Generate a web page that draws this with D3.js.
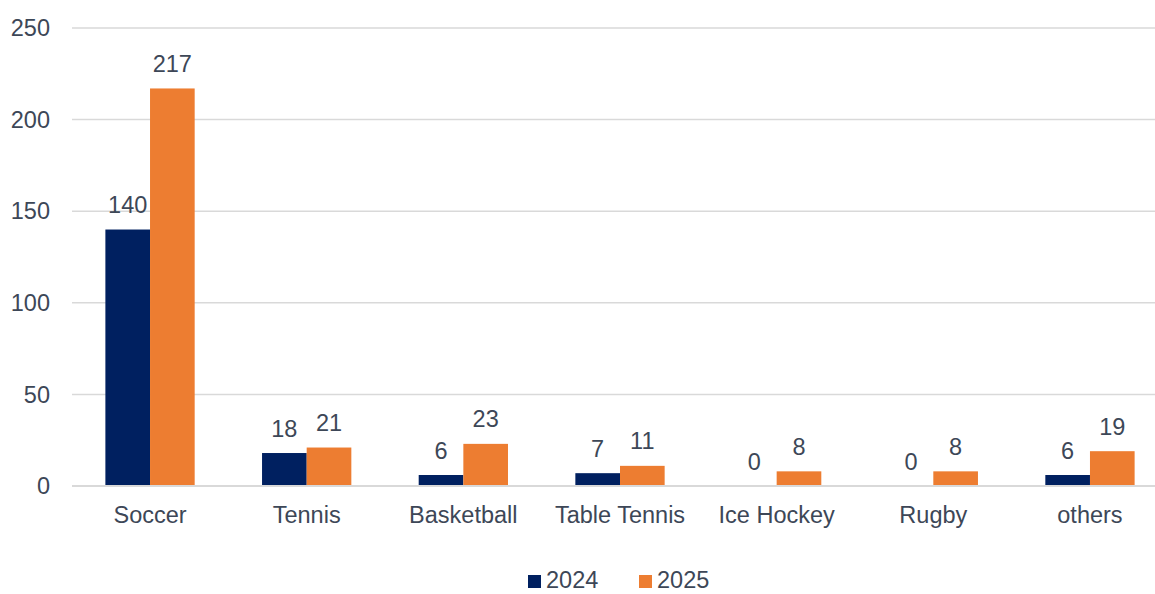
<!DOCTYPE html>
<html>
<head>
<meta charset="utf-8">
<script src="https://cdn.jsdelivr.net/npm/d3@7"></script>
<style>
  html, body { margin: 0; padding: 0; background: #fff; }
  svg text { font-family: "Liberation Sans", Arial, sans-serif; fill: #3d4757; }
</style>
</head>
<body>
<div id="canvas"></div>
<script>
const categories = ["Soccer", "Tennis", "Basketball", "Table Tennis", "Ice Hockey", "Rugby", "others"];
const seriesNames = ["2024", "2025"];
const values2024 = [140, 18, 6, 7, 0, 0, 6];
const values2025 = [217, 21, 23, 11, 8, 8, 19];
const yTicks = [0, 50, 100, 150, 200, 250];
const colors = ["#002060", "#ED7D31"];

const w = 1155;
const h = 594;
const fontSize = 23.5;

const data = categories.map((c, i) => ({
  cat: c,
  vals: [
    {name: seriesNames[0], v: values2024[i]},
    {name: seriesNames[1], v: values2025[i]}
  ]
}));

const svg = d3.select("#canvas")
  .append("svg")
  .attr("width", w)
  .attr("height", h);

const x0 = d3.scaleBand()
  .domain(categories)
  .range([71.7, 1168.3])
  .padding(0);

const bw = x0.bandwidth();
const x1 = d3.scaleBand()
  .domain(seriesNames)
  .range([bw * 0.215, bw * 0.785])
  .padding(0);

const y = d3.scaleLinear()
  .domain([0, 250])
  .range([486, 28]);

// gridlines
svg.append("g")
  .selectAll("line")
  .data(yTicks)
  .enter()
  .append("line")
  .attr("x1", 72)
  .attr("x2", w)
  .attr("y1", d => y(d))
  .attr("y2", d => y(d))
  .style("stroke", "#d9d9d9")
  .style("stroke-width", 1.5);

// y labels
svg.append("g")
  .selectAll("text")
  .data(yTicks)
  .enter()
  .append("text")
  .attr("x", 50)
  .attr("y", d => y(d))
  .attr("dy", "0.35em")
  .attr("text-anchor", "end")
  .style("font-size", fontSize + "px")
  .text(d => d);

// bars
const groups = svg.append("g")
  .selectAll("g")
  .data(data)
  .enter()
  .append("g")
  .attr("transform", d => "translate(" + x0(d.cat) + ",0)");

groups.selectAll("rect")
  .data(d => d.vals)
  .enter()
  .append("rect")
  .attr("x", d => x1(d.name))
  .attr("width", x1.bandwidth())
  .attr("y", d => y(d.v))
  .attr("height", d => y(0) - y(d.v))
  .style("fill", (d, i) => colors[i]);

groups.selectAll("text")
  .data(d => d.vals)
  .enter()
  .append("text")
  .attr("x", d => x1(d.name) + x1.bandwidth() / 2)
  .attr("y", d => y(d.v) - 16.5)
  .attr("text-anchor", "middle")
  .style("font-size", fontSize + "px")
  .text(d => d.v);

// axis line
svg.append("line")
  .attr("x1", 72)
  .attr("x2", w)
  .attr("y1", y(0))
  .attr("y2", y(0))
  .style("stroke", "#d9d9d9")
  .style("stroke-width", 2);

// category labels
svg.append("g")
  .selectAll("text")
  .data(categories)
  .enter()
  .append("text")
  .attr("x", d => x0(d) + bw / 2)
  .attr("y", 523)
  .attr("text-anchor", "middle")
  .style("font-size", fontSize + "px")
  .text(d => d);

// legend (kept inside the bottom edge)
const legendX = [528, 639];
const legend = svg.append("g")
  .selectAll("g")
  .data(seriesNames)
  .enter()
  .append("g")
  .attr("transform", (d, i) => "translate(" + legendX[i] + ",0)");

legend.append("rect")
  .attr("x", 0)
  .attr("y", 575)
  .attr("width", 13)
  .attr("height", 13)
  .style("fill", (d, i) => colors[i]);

legend.append("text")
  .attr("x", 18)
  .attr("y", 588)
  .style("font-size", fontSize + "px")
  .text(d => d);
</script>
</body>
</html>
